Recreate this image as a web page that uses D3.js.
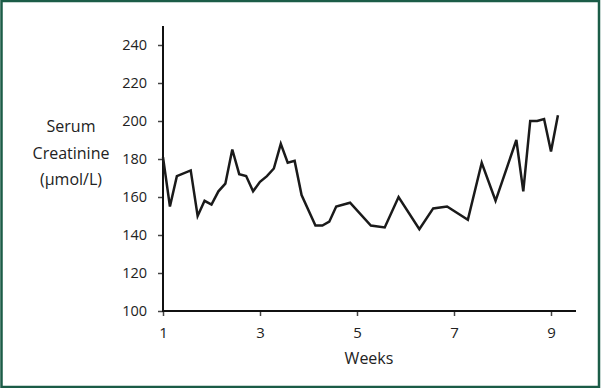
<!DOCTYPE html>
<html>
<head>
<meta charset="utf-8">
<script src="https://cdn.jsdelivr.net/npm/d3@7"></script>
<style>
  html, body { margin: 0; padding: 0; background: #fff; }
  svg { display: block; }
  text { font-family: "Open Sans", Lato, sans-serif; fill: #222; }
</style>
</head>
<body>
<svg id="chart" width="601" height="388"></svg>
<script>
// Data: day offsets from start of week 1, and serum creatinine (µmol/L)
const days = [0, 1, 2, 4, 5, 6, 7, 8, 9, 10, 11, 12, 13, 14, 15, 16, 17, 18, 19, 20,
              22, 23, 24, 25, 27, 30, 32, 34, 37, 39, 41, 44, 46, 48, 51, 52, 53, 54, 55, 56, 57];
const creatinine = [181, 155, 171, 174, 150, 158, 156, 163, 167, 185, 172, 171, 163, 168, 171, 175, 188, 178, 179, 161,
                    145, 145, 147, 155, 157, 145, 144, 160, 143, 154, 155, 148, 178, 158, 190, 163, 200, 200, 201, 184, 203];
const xTicks = [1, 3, 5, 7, 9];
const yTicks = [100, 120, 140, 160, 180, 200, 220, 240];
const yLabelLines = ["Serum", "Creatinine", "(µmol/L)"];
const xLabel = "Weeks";

const svg = d3.select("#chart");

// Border
svg.append("rect")
  .attr("x", 1.5).attr("y", 1).attr("width", 597.5).attr("height", 386)
  .attr("fill", "none").attr("stroke", "#1b5c47").attr("stroke-width", 2.5);

const x = d3.scaleLinear().domain([1, 9]).range([163, 551]);
const y = d3.scaleLinear().domain([100, 240]).range([311, 45]);

const g = svg.append("g");

// Y axis
const yAxis = g.append("g").attr("transform", "translate(163,0)")
  .call(d3.axisLeft(y).tickValues(yTicks).tickSize(5).tickPadding(11).tickFormat(d3.format("d")));
yAxis.select(".domain").remove();
yAxis.selectAll(".tick line").attr("stroke", "#444").attr("stroke-width", 1.5);
yAxis.selectAll("text").attr("font-size", 14.5).attr("fill", "#222");
g.append("line").attr("x1", 163).attr("x2", 163).attr("y1", 26).attr("y2", 312)
  .attr("stroke", "#111").attr("stroke-width", 2);

// X axis
const xAxis = g.append("g").attr("transform", "translate(0,311)")
  .call(d3.axisBottom(x).tickValues(xTicks).tickSize(5).tickPadding(11).tickFormat(d3.format("d")));
xAxis.select(".domain").remove();
xAxis.selectAll(".tick line").attr("stroke", "#444").attr("stroke-width", 1.5);
xAxis.selectAll("text").attr("font-size", 15).attr("fill", "#222");
g.append("line").attr("x1", 162).attr("x2", 576).attr("y1", 311).attr("y2", 311)
  .attr("stroke", "#111").attr("stroke-width", 2);

// Line
const pts = days.map((d, i) => ({ w: 1 + d / 7, v: creatinine[i] }));
g.append("path").datum(pts)
  .attr("fill", "none").attr("stroke", "#1a1a1a").attr("stroke-width", 2.5)
  .attr("stroke-linejoin", "miter")
  .attr("d", d3.line().x(d => x(d.w)).y(d => y(d.v)));

// Axis labels
svg.append("text").attr("x", 369).attr("y", 364).attr("text-anchor", "middle")
  .attr("font-size", 16).text(xLabel);
yLabelLines.forEach((t, i) => {
  svg.append("text").attr("x", 71).attr("y", 132 + i * 26.5).attr("text-anchor", "middle")
    .attr("font-size", 16).text(t);
});
</script>
</body>
</html>
